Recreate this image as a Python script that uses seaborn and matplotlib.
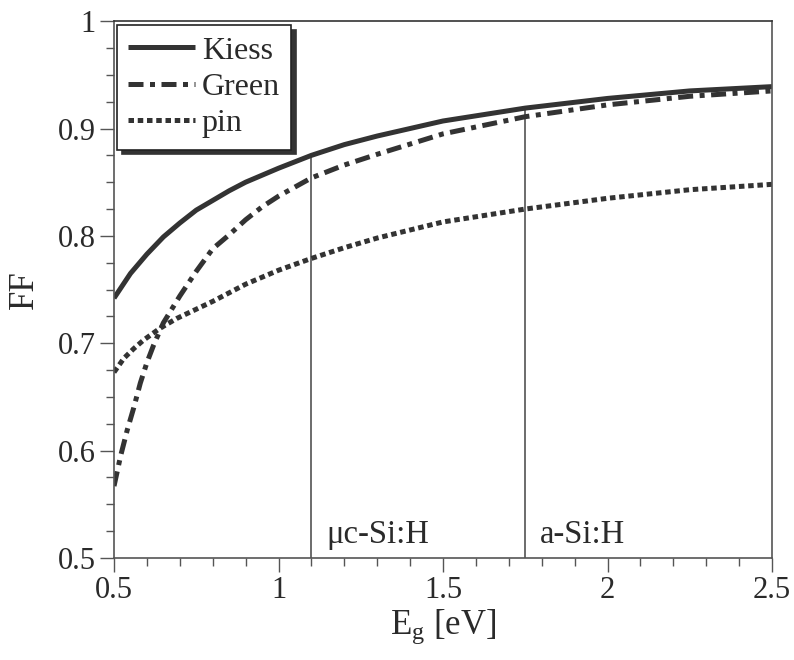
import numpy as np
import pandas as pd
import matplotlib
matplotlib.use("Agg")
import matplotlib.pyplot as plt
import seaborn as sns
from matplotlib.ticker import MultipleLocator

# ---- data ----
kiess_eg = [0.5, 0.55, 0.6, 0.65, 0.7, 0.75, 0.8, 0.85, 0.9, 1.0, 1.1, 1.2, 1.3, 1.4, 1.5, 1.75, 2.0, 2.25, 2.5]
kiess_ff = [0.742, 0.765, 0.783, 0.799, 0.812, 0.824, 0.833, 0.842, 0.850, 0.863, 0.875, 0.885, 0.893, 0.900, 0.907, 0.919, 0.928, 0.935, 0.939]

green_eg = [0.5, 0.52, 0.54, 0.56, 0.58, 0.6, 0.62, 0.65, 0.7, 0.75, 0.8, 0.85, 0.9, 0.95, 1.0, 1.1, 1.2, 1.3, 1.5, 1.75, 2.0, 2.25, 2.5]
green_ff = [0.567, 0.595, 0.619, 0.640, 0.663, 0.682, 0.698, 0.719, 0.744, 0.767, 0.788, 0.801, 0.815, 0.827, 0.837, 0.854, 0.866, 0.876, 0.895, 0.911, 0.922, 0.930, 0.935]

pin_eg = [0.5, 0.53, 0.56, 0.59, 0.64, 0.69, 0.8, 0.9, 1.0, 1.1, 1.2, 1.3, 1.5, 1.75, 2.0, 2.25, 2.5]
pin_ff = [0.673, 0.686, 0.695, 0.703, 0.714, 0.723, 0.739, 0.755, 0.768, 0.779, 0.789, 0.798, 0.813, 0.825, 0.835, 0.843, 0.848]

series_names = ["Kiess", "Green", "pin"]

material_eg = [1.1, 1.75]
material_labels = ["\u03bcc-Si:H", "a-Si:H"]

x_ticks = [0.5, 1, 1.5, 2, 2.5]
x_ticklabels = ["0.5", "1", "1.5", "2", "2.5"]
y_ticks = [0.5, 0.6, 0.7, 0.8, 0.9, 1.0]
y_ticklabels = ["0.5", "0.6", "0.7", "0.8", "0.9", "1"]

# ---- styling ----
sns.set_theme(style="white")
plt.rcParams["font.family"] = ["Liberation Serif", "DejaVu Serif"]
plt.rcParams["mathtext.fontset"] = "custom"
plt.rcParams["mathtext.rm"] = "Liberation Serif"
plt.rcParams["mathtext.it"] = "Liberation Serif"

txt = "#2a2a2a"
line_c = "#333333"
spine_c = "#555555"

fig = plt.figure(figsize=(7.94, 6.6), dpi=100)
ax = fig.add_axes([0.1436, 0.1545, 0.9723 - 0.1436, 0.968 - 0.1545])

lw = 3.6
df_k = pd.DataFrame({"Eg": kiess_eg, "FF": kiess_ff})
df_g = pd.DataFrame({"Eg": green_eg, "FF": green_ff})
df_p = pd.DataFrame({"Eg": pin_eg, "FF": pin_ff})

sns.lineplot(data=df_k, x="Eg", y="FF", ax=ax, color=line_c, lw=lw,
             label=series_names[0], solid_capstyle="butt")
sns.lineplot(data=df_g, x="Eg", y="FF", ax=ax, color=line_c, lw=lw,
             linestyle=(0, (3.0, 1.3, 1.0, 1.3)), label=series_names[1])
sns.lineplot(data=df_p, x="Eg", y="FF", ax=ax, color=line_c, lw=lw,
             linestyle=(0, (1.1, 0.75)), label=series_names[2])

# material markers: vertical lines up to the Kiess curve
for eg, lab in zip(material_eg, material_labels):
    top = np.interp(eg, kiess_eg, kiess_ff)
    ax.vlines(eg, 0.5, top, color="#444444", lw=1.1, zorder=1)
    ax.text(eg + 0.044, 0.514, lab, fontsize=23.5, color=txt, ha="left", va="baseline")

ax.set_xlim(0.5, 2.5)
ax.set_ylim(0.5, 1.0)
ax.set_xticks(x_ticks)
ax.set_xticklabels(x_ticklabels)
ax.set_yticks(y_ticks)
ax.set_yticklabels(y_ticklabels)
ax.xaxis.set_minor_locator(MultipleLocator(0.1))
ax.yaxis.set_minor_locator(MultipleLocator(0.025))
ax.tick_params(axis="both", which="major", direction="out", length=10, width=1,
               color=spine_c, labelsize=22, labelcolor=txt, pad=3)
ax.tick_params(axis="both", which="minor", direction="out", length=6, width=1, color=spine_c)
ax.tick_params(top=False, right=False, which="both")
ax.tick_params(axis="x", which="both", bottom=True)
ax.tick_params(axis="y", which="both", left=True)

for s in ax.spines.values():
    s.set_color(spine_c)
    s.set_linewidth(1.2)
ax.spines["top"].set_color("#333333")

ax.set_xlabel(r"E$_{\mathregular{g}}$ [eV]", fontsize=25, color=txt, labelpad=2)
ax.set_ylabel("FF", fontsize=25, color=txt, labelpad=12)

leg = ax.legend(loc="upper left", bbox_to_anchor=(3 / 658, 1 - 4 / 537), borderaxespad=0,
                fontsize=23, frameon=True, fancybox=False, handlelength=2.1,
                handletextpad=0.2, borderpad=0.35, labelspacing=0.22,
                shadow={"ox": 3.5, "oy": -3.5, "color": "#333333", "alpha": 1})
leg.get_frame().set_edgecolor("#222222")
leg.get_frame().set_linewidth(1.2)
leg.get_frame().set_facecolor("white")
leg.get_frame().set_alpha(1)
for t in leg.get_texts():
    t.set_color(txt)

fig.savefig("out.png", dpi=100)
